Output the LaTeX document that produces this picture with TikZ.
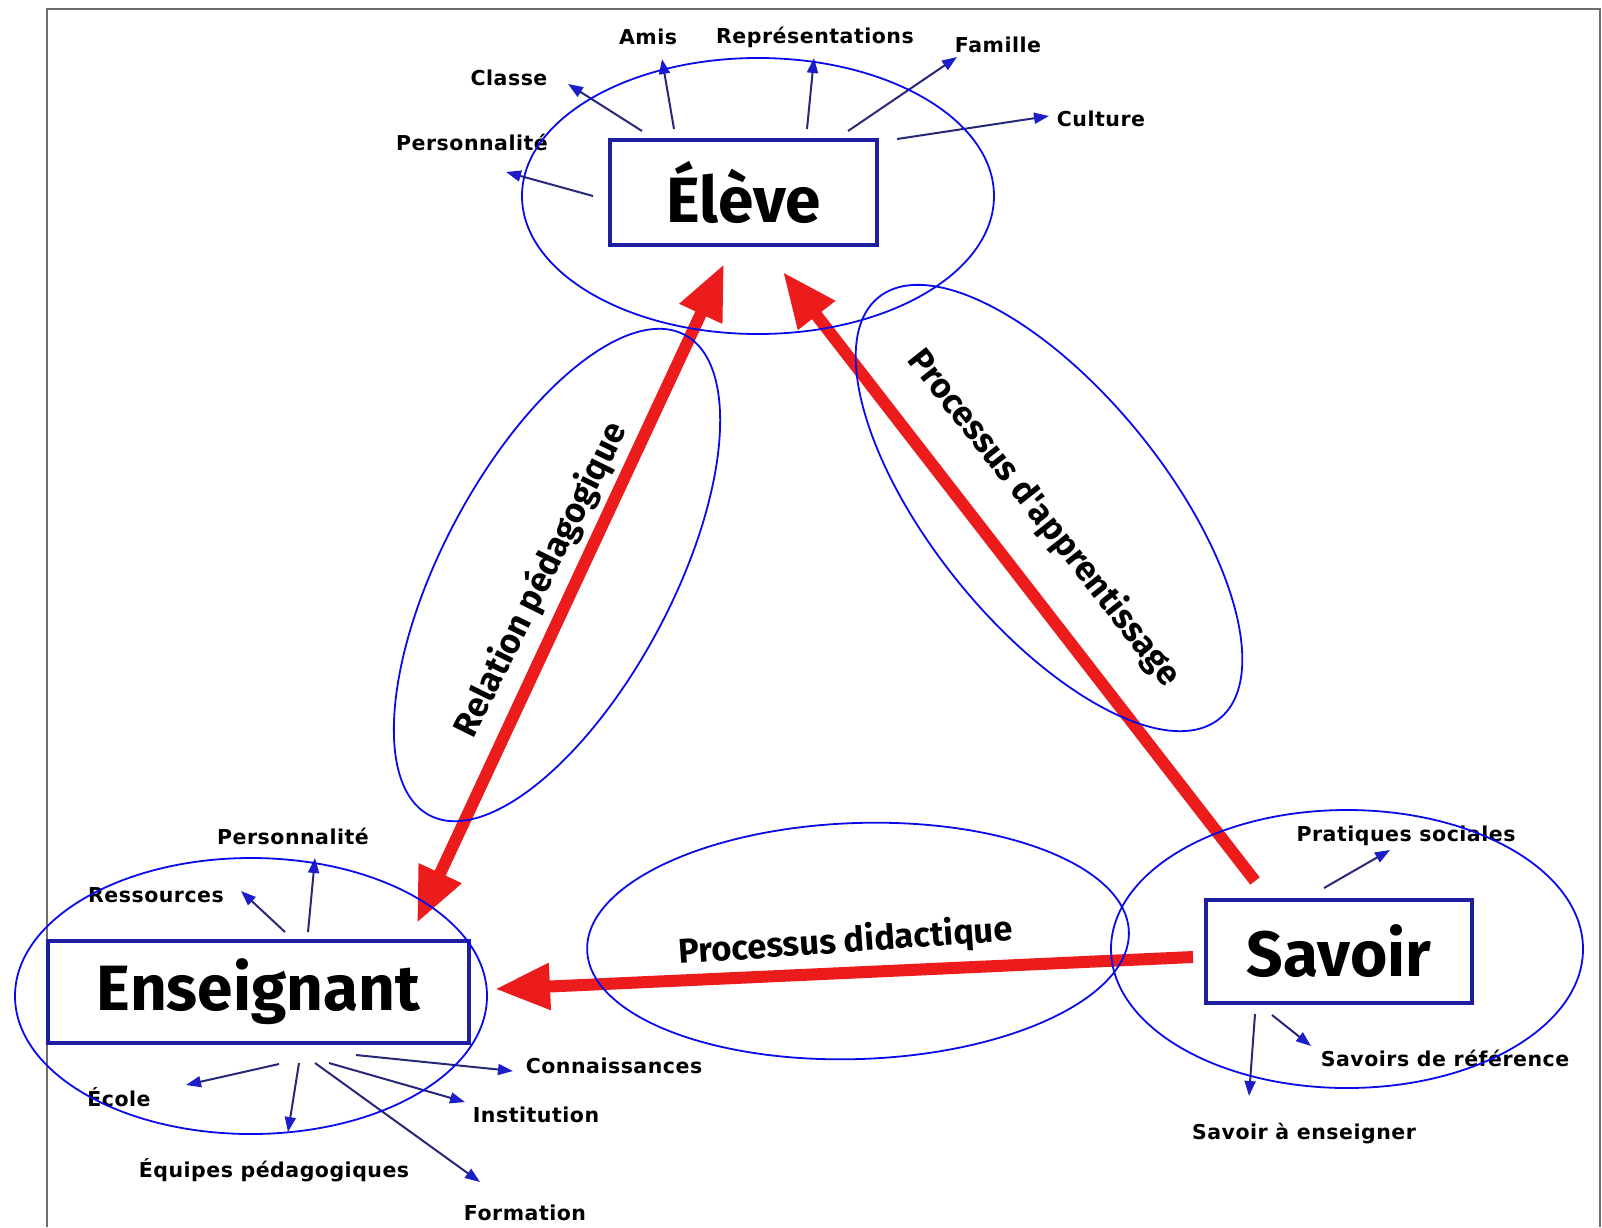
\documentclass[tikz,border=0pt]{standalone}
\usepackage{fontspec}
\usetikzlibrary{arrows.meta,shapes.geometric}
\newfontfamily\boxfont{Fira Sans}
\newfontfamily\labfont[LetterSpace=2.5]{DejaVu Sans}
\definecolor{boxblue}{RGB}{30,30,160}
\definecolor{ringblue}{RGB}{10,10,235}
\definecolor{navy}{RGB}{40,40,120}
\definecolor{headblue}{RGB}{30,30,200}
\definecolor{myred}{RGB}{236,28,28}
\definecolor{framegray}{RGB}{110,110,110}
\tikzset{
  mainbox/.style={draw=boxblue, line width=4pt, fill=white, inner sep=0pt,
    font=\boxfont\bfseries\fontsize{64}{70}\selectfont},
  ring/.style={ellipse, draw=ringblue, line width=1.8pt, inner sep=0pt},
  sat/.style={font=\labfont\bfseries\fontsize{20.5}{22}\selectfont, inner sep=1pt},
  satarrow/.style={draw=navy, line width=2pt, -{Triangle[length=15pt,width=11pt,fill=headblue,color=headblue]}},
  redarrow/.style={draw=myred, line width=12pt, -{Triangle[length=55pt,width=44pt]}},
  redlab/.style={font=\boxfont\bfseries\fontsize{34.5}{36}\selectfont, inner sep=0pt}
}
\begin{document}
\begin{tikzpicture}[x=1pt,y=-1pt]
\useasboundingbox (0,0) rectangle (1602,1227);
\fill[white] (0,0) rectangle (1602,1227);
% frame
\coordinate (fbl) at (47,1227);
\coordinate (ftl) at (47,9);
\coordinate (ftr) at (1600,9);
\coordinate (fbr) at (1600,1227);
\draw[framegray, line width=1.5pt] (fbl) -- (ftl) -- (ftr) -- (fbr);

% red arrows
\coordinate (relA) at (417,923);
\coordinate (relB) at (724,264);
\coordinate (appA) at (1255,881);
\coordinate (appB) at (783,272);
\coordinate (didA) at (1193,957);
\coordinate (didB) at (495,989);
\draw[redarrow, {Triangle[length=55pt,width=44pt]}-{Triangle[length=55pt,width=44pt]}] (relA) -- (relB);
\draw[redarrow] (appA) -- (appB);
\draw[redarrow] (didA) -- (didB);

% red arrow labels
\node[redlab, rotate=63.6] (lrel) at (541,580) {Relation pédagogique};
\node[redlab, rotate=-51.7] (lapp) at (1044,518) {Processus d'apprentissage};
\node[redlab, rotate=4] (ldid) at (846,942) {Processus didactique};

% main boxes
\node[mainbox, minimum width=267pt, minimum height=105pt] (eleve) at (743.5,192.5) {Élève};
\node[mainbox, minimum width=421pt, minimum height=102pt] (ens) at (258.5,992) {Enseignant};
\node[mainbox, minimum width=266pt, minimum height=103pt] (sav) at (1339,951.5) {Savoir};

% satellites of Eleve
\node[sat] (e1) at (472,142) {Personnalité};
\node[sat] (e2) at (509,78) {Classe};
\node[sat] (e3) at (648,37) {Amis};
\node[sat] (e4) at (815,37) {Représentations};
\node[sat] (e5) at (998,45) {Famille};
\node[sat] (e6) at (1101,119) {Culture};
\coordinate (e1s) at (593,196); \coordinate (e1t) at (506,172);
\coordinate (e2s) at (642,131); \coordinate (e2t) at (568,84);
\coordinate (e3s) at (674,129); \coordinate (e3t) at (662,59);
\coordinate (e4s) at (807,129); \coordinate (e4t) at (814,58);
\coordinate (e5s) at (848,131); \coordinate (e5t) at (957,57);
\coordinate (e6s) at (897,139); \coordinate (e6t) at (1049,116);
\foreach \i in {1,...,6} {\draw[satarrow] (e\i s) -- (e\i t);}

% satellites of Enseignant
\node[sat] (n1) at (293,836) {Personnalité};
\node[sat] (n2) at (156,895) {Ressources};
\node[sat] (n3) at (119,1097) {École};
\node[sat] (n4) at (274,1170) {Équipes pédagogiques};
\node[sat] (n5) at (614,1066) {Connaissances};
\node[sat] (n6) at (536,1115) {Institution};
\node[sat] (n7) at (525,1213) {Formation};
\coordinate (n1s) at (308,932); \coordinate (n1t) at (315,858);
\coordinate (n2s) at (285,932); \coordinate (n2t) at (241,891);
\coordinate (n3s) at (279,1064); \coordinate (n3t) at (186,1085);
\coordinate (n4s) at (299,1063); \coordinate (n4t) at (288,1132);
\coordinate (n5s) at (356,1055); \coordinate (n5t) at (513,1071);
\coordinate (n6s) at (329,1063); \coordinate (n6t) at (465,1102);
\coordinate (n7s) at (315,1063); \coordinate (n7t) at (480,1182);
\foreach \i in {1,...,7} {\draw[satarrow] (n\i s) -- (n\i t);}

% satellites of Savoir
\node[sat] (s1) at (1406,836) {Pratiques sociales};
\node[sat] (s2) at (1445,1058) {Savoirs de référence};
\node[sat] (s3) at (1304,1133) {Savoir à enseigner};
\coordinate (s1s) at (1324,888); \coordinate (s1t) at (1390,850);
\coordinate (s2s) at (1272,1015); \coordinate (s2t) at (1311,1046);
\coordinate (s3s) at (1255,1014); \coordinate (s3t) at (1249,1096);
\foreach \i in {1,2,3} {\draw[satarrow] (s\i s) -- (s\i t);}

% ellipses
\node[ring, minimum width=472pt, minimum height=276pt] (rEleve) at (758,196) {};
\node[ring, minimum width=472pt, minimum height=276pt] (rEns) at (251,996) {};
\node[ring, minimum width=472pt, minimum height=278pt] (rSav) at (1347,949) {};
\node[ring, minimum width=542pt, minimum height=236pt, rotate=2] (rDid) at (858,941) {};
\node[ring, minimum width=544pt, minimum height=230pt, rotate=62] (rRel) at (557,575) {};
\node[ring, minimum width=542pt, minimum height=234pt, rotate=-51] (rApp) at (1049,508) {};
\end{tikzpicture}
\end{document}
